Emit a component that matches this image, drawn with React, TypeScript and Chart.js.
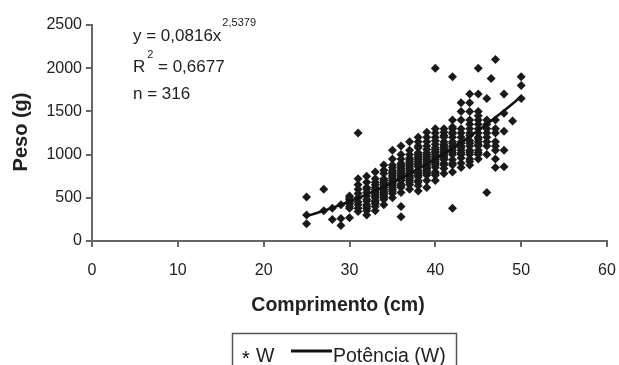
import { useEffect, useRef } from "react";
import { Chart, registerables } from "chart.js";

Chart.register(...registerables);

// ---- Data ----
// Body length classes (cm) and the weights (g) observed at each length
const lengthCm: number[] = [25, 27, 28, 29, 30, 31, 32, 33, 34, 35, 36, 37, 38, 39, 40, 41, 42, 43, 44, 45, 46, 46.5, 47, 48, 49, 50];
const weightsAtLength: number[][] = [
  [200, 300, 510],
  [350, 600],
  [250, 380],
  [180, 260, 420],
  [270, 380, 400, 430, 440, 460, 480, 500, 520],
  [340, 380, 420, 450, 500, 550, 600, 650, 720, 1250],
  [300, 350, 380, 400, 420, 460, 480, 520, 560, 600, 620, 680, 750],
  [350, 400, 430, 450, 470, 500, 520, 540, 560, 580, 600, 620, 650, 680, 720, 800],
  [420, 480, 500, 520, 540, 560, 580, 600, 620, 640, 660, 680, 700, 720, 780, 820, 880],
  [500, 550, 580, 600, 620, 640, 660, 680, 700, 720, 740, 760, 780, 800, 820, 850, 880, 950, 1050],
  [280, 400, 560, 620, 640, 660, 700, 720, 740, 760, 780, 800, 820, 840, 860, 880, 900, 950, 1000, 1100],
  [600, 650, 680, 700, 720, 740, 760, 780, 800, 820, 840, 860, 880, 900, 920, 940, 960, 1000, 1050, 1150],
  [580, 640, 680, 700, 740, 760, 780, 800, 820, 860, 880, 900, 920, 940, 960, 980, 1000, 1020, 1080, 1100, 1150, 1200],
  [620, 700, 760, 780, 800, 820, 840, 860, 880, 900, 920, 940, 960, 980, 1000, 1020, 1060, 1100, 1150, 1200, 1260],
  [700, 760, 780, 800, 850, 880, 900, 920, 940, 960, 980, 1000, 1020, 1040, 1060, 1080, 1120, 1160, 1200, 1250, 1300, 2000],
  [780, 840, 880, 900, 940, 960, 980, 1000, 1020, 1040, 1060, 1080, 1100, 1120, 1150, 1200, 1220, 1260, 1300],
  [380, 800, 880, 900, 940, 1000, 1020, 1050, 1080, 1100, 1130, 1150, 1200, 1240, 1260, 1300, 1320, 1400, 1900],
  [850, 900, 960, 1000, 1020, 1050, 1080, 1100, 1130, 1150, 1200, 1250, 1300, 1400, 1500, 1600],
  [880, 920, 950, 1000, 1030, 1050, 1100, 1130, 1160, 1220, 1250, 1300, 1350, 1400, 1500, 1600, 1700],
  [950, 1000, 1020, 1050, 1100, 1120, 1150, 1180, 1200, 1250, 1300, 1350, 1400, 1450, 1500, 1700, 2000],
  [560, 1000, 1100, 1150, 1200, 1250, 1300, 1350, 1400, 1650],
  [1880],
  [850, 950, 1050, 1100, 1150, 1250, 1300, 1400, 2100],
  [860, 1050, 1270, 1480, 1700],
  [1390],
  [1650, 1800, 1900],
];

// Power trend line "Potência (W)"
const trendX: number[] = [25, 26, 27, 28, 29, 30, 31, 32, 33, 34, 35, 36, 37, 38, 39, 40, 41, 42, 43, 44, 45, 46, 47, 48, 49, 50];
const trendY: number[] = [288, 318, 350, 384, 420, 458, 497, 539, 583, 629, 677, 727, 779, 834, 891, 950, 1011, 1075, 1141, 1210, 1281, 1354, 1430, 1508, 1589, 1673];

const xTickValues: number[] = [0, 10, 20, 30, 40, 50, 60];
const yTickValues: number[] = [0, 500, 1000, 1500, 2000, 2500];

const xTitle = "Comprimento (cm)";
const yTitle = "Peso (g)";
const eqMain = "y = 0,0816x";
const eqExp = "2,5379";
const r2Text = "= 0,6677";
const nText = "n = 316";
const legendScatter = "W";
const legendLine = "Potência (W)";

const FONT = '"Liberation Sans", Arial, sans-serif';
const font = (size: number, bold = false) => `${bold ? "bold " : ""}${size}px ${FONT}`;

const extrasPlugin = {
  id: "extras",
  afterDraw(chart: any) {
    const ctx: CanvasRenderingContext2D = chart.ctx;
    ctx.save();
    ctx.fillStyle = "#222";
    ctx.textBaseline = "alphabetic";
    ctx.textAlign = "left";

    // equation block
    ctx.font = font(17);
    ctx.fillText(eqMain, 133, 41);
    const w = ctx.measureText(eqMain).width;
    ctx.font = font(11);
    ctx.fillText(eqExp, 133 + w + 1, 26);
    ctx.font = font(17);
    ctx.fillText("R", 133, 72);
    const wr = ctx.measureText("R").width;
    ctx.font = font(11);
    ctx.fillText("2", 133 + wr + 2, 58);
    ctx.font = font(17);
    ctx.fillText(r2Text, 158, 72);
    ctx.fillText(nText, 133, 99);

    // axis titles
    ctx.textAlign = "center";
    ctx.font = font(19.5, true);
    ctx.fillText(xTitle, 338, 311);
    ctx.save();
    ctx.translate(27, 132);
    ctx.rotate(-Math.PI / 2);
    ctx.font = font(20, true);
    ctx.fillText(yTitle, 0, 0);
    ctx.restore();

    // legend box
    ctx.strokeStyle = "#555";
    ctx.lineWidth = 1.5;
    ctx.strokeRect(232.5, 333.5, 224, 50);
    ctx.textAlign = "left";
    ctx.font = font(20);
    ctx.fillStyle = "#111";
    ctx.fillText("*", 242, 365);
    ctx.font = font(19.5);
    ctx.fillStyle = "#222";
    ctx.fillText(legendScatter, 256, 362);
    ctx.strokeStyle = "#111";
    ctx.lineWidth = 3;
    ctx.beginPath();
    ctx.moveTo(291, 351);
    ctx.lineTo(332, 351);
    ctx.stroke();
    ctx.fillText(legendLine, 333, 362);
    ctx.restore();
  },
};

export default function App() {
  const canvasRef = useRef<HTMLCanvasElement | null>(null);

  useEffect(() => {
    const canvas = canvasRef.current;
    if (!canvas) return;
    const points: { x: number; y: number }[] = [];
    lengthCm.forEach((x, i) => {
      weightsAtLength[i].forEach((y) => points.push({ x, y }));
    });
    const trend = trendX.map((x, i) => ({ x, y: trendY[i] }));

    const axisColor = "#666";
    const tickCb = (v: any) => String(v);
    const chart = new Chart(canvas, {
      type: "scatter",
      data: {
        datasets: [
          {
            label: legendLine,
            data: trend,
            showLine: true,
            borderColor: "#111",
            borderWidth: 2.5,
            pointRadius: 0,
            fill: false,
            order: 0,
          } as any,
          {
            label: legendScatter,
            data: points,
            pointStyle: "rectRot",
            pointRadius: 4.5,
            backgroundColor: "#1a1a1a",
            borderColor: "#1a1a1a",
            borderWidth: 0,
            showLine: false,
            order: 1,
          } as any,
        ],
      },
      options: {
        responsive: false,
        animation: false,
        devicePixelRatio: 1,
        layout: { padding: { left: 0, right: 12, top: 25, bottom: 0 } },
        plugins: {
          legend: { display: false },
          tooltip: { enabled: false },
          title: { display: false },
        },
        scales: {
          x: {
            type: "linear",
            min: 0,
            max: 60,
            afterBuildTicks: (scale: any) => {
              scale.ticks = xTickValues.map((v) => ({ value: v }));
            },
            afterFit: (scale: any) => {
              scale.height = 124;
              scale.paddingLeft = 0;
              scale.paddingRight = 0;
            },
            ticks: {
              font: { family: FONT, size: 16 },
              color: "#222",
              padding: 14,
              maxRotation: 0,
              callback: tickCb,
            },
            grid: {
              display: true,
              drawOnChartArea: false,
              drawTicks: true,
              tickLength: 6,
              color: axisColor,
              lineWidth: 2,
            },
            border: { display: true, color: axisColor, width: 2 },
          },
          y: {
            type: "linear",
            min: 0,
            max: 2500,
            afterBuildTicks: (scale: any) => {
              scale.ticks = yTickValues.map((v) => ({ value: v }));
            },
            afterFit: (scale: any) => {
              scale.width = 92;
              scale.paddingTop = 0;
              scale.paddingBottom = 0;
            },
            ticks: {
              font: { family: FONT, size: 16 },
              color: "#222",
              padding: 4,
              callback: tickCb,
            },
            grid: {
              display: true,
              drawOnChartArea: false,
              drawTicks: true,
              tickLength: 6,
              color: axisColor,
              lineWidth: 2,
            },
            border: { display: true, color: axisColor, width: 2 },
          },
        },
      } as any,
      plugins: [extrasPlugin],
    });
    return () => chart.destroy();
  }, []);

  return (
    <div style={{ position: "absolute", left: 0, top: 0, width: 619, height: 365, background: "#fff", overflow: "hidden" }}>
      <canvas ref={canvasRef} width={619} height={365} style={{ display: "block" }} />
    </div>
  );
}
